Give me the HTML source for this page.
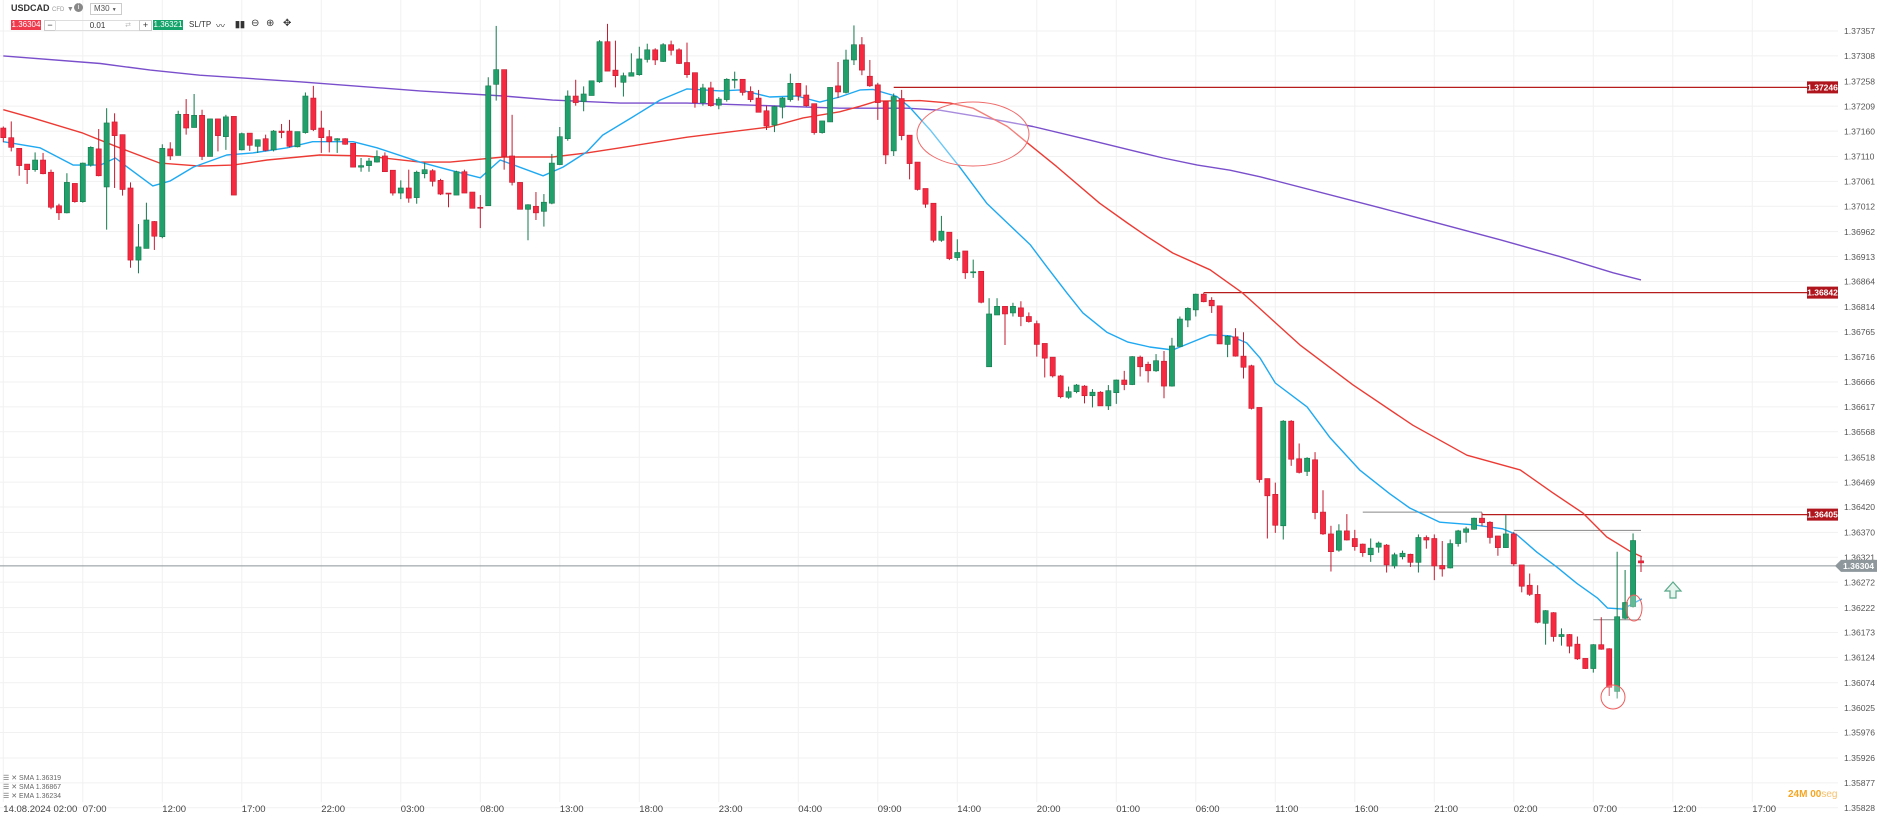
<!DOCTYPE html>
<html><head><meta charset="utf-8"><style>
html,body{margin:0;padding:0;background:#fff;width:1877px;height:816px;overflow:hidden;font-family:"Liberation Sans",sans-serif;}
#chart{position:absolute;left:0;top:0;}
.tb{position:absolute;font-size:9px;color:#333;}
</style></head><body>
<svg id="chart" width="1877" height="816" xmlns="http://www.w3.org/2000/svg">
<g id="grid"></g>
<g id="yaxis"></g>
<g id="xaxis"></g>
<g id="levels"></g>
<g id="lines"></g>
<g id="candles"></g>
<g id="drawings"></g>
<g id="tags"></g>
</svg>

<div class="tb" style="left:11px;top:3px;font-weight:bold;font-size:9px;">USDCAD <span style="font-size:6px;color:#999;font-weight:normal">CFD</span> <span style="color:#888;font-weight:normal;font-size:7px">▼</span></div>
<div class="tb" style="left:74px;top:3px;width:9px;height:9px;border-radius:50%;background:#888;color:#fff;font-size:7px;text-align:center;line-height:9px;">i</div>
<div class="tb" style="left:90px;top:3px;width:27px;height:10px;border:1px solid #ccc;font-size:8px;line-height:10px;padding-left:3px;color:#555;">M30 <span style="font-size:5px">▼</span></div>
<div class="tb" style="left:11px;top:20px;width:30px;height:10px;background:#f0394b;color:#fff;font-size:8px;line-height:10px;text-align:center;">1.36304</div>
<div class="tb" style="left:44px;top:20px;width:10px;height:9px;border:1px solid #ccc;font-size:9px;line-height:8px;text-align:center;">−</div>
<div class="tb" style="left:55px;top:20px;width:83px;height:9px;border:1px solid #ddd;font-size:8px;line-height:9px;text-align:center;">0.01 <span style="position:absolute;right:8px;color:#bbb;font-size:7px">⇄</span></div>
<div class="tb" style="left:139px;top:20px;width:11px;height:9px;border:1px solid #ccc;font-size:9px;line-height:8px;text-align:center;">+</div>
<div class="tb" style="left:153px;top:20px;width:30px;height:10px;background:#14a36b;color:#fff;font-size:8px;line-height:10px;text-align:center;">1.36321</div>
<div class="tb" style="left:189px;top:20px;font-size:8px;line-height:10px;">SL/TP</div>
<div class="tb" style="left:216px;top:19px;font-size:9px;">〰</div>
<div class="tb" style="left:235px;top:19px;font-size:9px;font-weight:bold;">▮▮</div>
<div class="tb" style="left:251px;top:18px;font-size:10px;">⊖</div>
<div class="tb" style="left:266px;top:18px;font-size:10px;">⊕</div>
<div class="tb" style="left:283px;top:18px;font-size:10px;">✥</div>

<div class="tb" style="left:3px;top:774px;font-size:7px;color:#666;">☰ ✕ SMA 1.36319</div>
<div class="tb" style="left:3px;top:783px;font-size:7px;color:#666;">☰ ✕ SMA 1.36867</div>
<div class="tb" style="left:3px;top:792px;font-size:7px;color:#666;">☰ ✕ EMA 1.36234</div>
<div class="tb" style="left:1788px;top:789px;font-size:10px;font-weight:bold;color:#f5a623;">24M <span style="color:#f5a623">00</span><span style="font-weight:normal;color:#f8c06a">seg</span></div>

<script>
const opens=[1.37166,1.37147,1.37126,1.37095,1.37084,1.37103,1.37079,1.37013,1.36999,1.37057,1.37021,1.37093,1.37125,1.37050,1.37178,1.37153,1.37048,1.36906,1.36929,1.36982,1.36952,1.37125,1.37112,1.37193,1.37167,1.37191,1.37110,1.37184,1.37149,1.37189,1.37123,1.37156,1.37130,1.37145,1.37123,1.37160,1.37160,1.37129,1.37157,1.37225,1.37166,1.37149,1.37142,1.37145,1.37136,1.37089,1.37092,1.37099,1.37111,1.37083,1.37038,1.37048,1.37029,1.37076,1.37082,1.37063,1.37038,1.37034,1.37080,1.37040,1.37010,1.37013,1.37252,1.37281,1.37111,1.37059,1.37006,1.37012,1.37002,1.37018,1.37094,1.37145,1.37229,1.37218,1.37230,1.37257,1.37336,1.37280,1.37256,1.37268,1.37271,1.37301,1.37320,1.37297,1.37330,1.37320,1.37295,1.37275,1.37216,1.37245,1.37211,1.37222,1.37260,1.37262,1.37238,1.37225,1.37200,1.37172,1.37207,1.37222,1.37254,1.37231,1.37214,1.37157,1.37178,1.37249,1.37236,1.37300,1.37330,1.37268,1.37251,1.37218,1.37121,1.37224,1.37152,1.37099,1.37047,1.37018,1.36945,1.36961,1.36911,1.36924,1.36881,1.36884,1.36696,1.36798,1.36815,1.36802,1.36812,1.36795,1.36781,1.36742,1.36715,1.36678,1.36636,1.36647,1.36658,1.36639,1.36646,1.36619,1.36645,1.36670,1.36661,1.36715,1.36701,1.36688,1.36707,1.36658,1.36736,1.36788,1.36808,1.36839,1.36827,1.36816,1.36740,1.36755,1.36717,1.36698,1.36616,1.36476,1.36445,1.36383,1.36589,1.36515,1.36490,1.36513,1.36410,1.36367,1.36335,1.36373,1.36358,1.36347,1.36326,1.36341,1.36345,1.36304,1.36322,1.36327,1.36311,1.36360,1.36358,1.36305,1.36300,1.36348,1.36370,1.36376,1.36398,1.36390,1.36363,1.36340,1.36367,1.36306,1.36266,1.36248,1.36191,1.36212,1.36165,1.36169,1.36150,1.36122,1.36102,1.36149,1.36141,1.36057,1.36201,1.36224,1.36314];
const highs=[1.37169,1.37179,1.37126,1.37095,1.37118,1.37117,1.37084,1.37017,1.37077,1.37057,1.37098,1.37130,1.37164,1.37205,1.37195,1.37153,1.37059,1.36977,1.37019,1.36983,1.37134,1.37138,1.37200,1.37223,1.37233,1.37202,1.37184,1.37184,1.37192,1.37189,1.37157,1.37156,1.37143,1.37153,1.37162,1.37174,1.37182,1.37159,1.37236,1.37249,1.37200,1.37162,1.37146,1.37146,1.37136,1.37107,1.37107,1.37122,1.37118,1.37083,1.37063,1.37084,1.37082,1.37098,1.37085,1.37066,1.37038,1.37082,1.37084,1.37040,1.37034,1.37266,1.37367,1.37281,1.37192,1.37059,1.37016,1.37040,1.37036,1.37115,1.37168,1.37240,1.37261,1.37248,1.37259,1.37339,1.37371,1.37338,1.37275,1.37313,1.37326,1.37332,1.37323,1.37333,1.37338,1.37323,1.37334,1.37275,1.37253,1.37257,1.37227,1.37264,1.37277,1.37262,1.37248,1.37241,1.37210,1.37210,1.37227,1.37273,1.37254,1.37250,1.37214,1.37180,1.37246,1.37296,1.37320,1.37368,1.37345,1.37300,1.37255,1.37218,1.37234,1.37241,1.37152,1.37099,1.37047,1.37018,1.36993,1.36961,1.36947,1.36924,1.36907,1.36884,1.36831,1.36831,1.36815,1.36822,1.36825,1.36803,1.36787,1.36742,1.36715,1.36680,1.36657,1.36662,1.36660,1.36652,1.36648,1.36660,1.36671,1.36688,1.36717,1.36718,1.36706,1.36721,1.36727,1.36753,1.36795,1.36813,1.36840,1.36842,1.36833,1.36816,1.36758,1.36772,1.36764,1.36700,1.36616,1.36476,1.36468,1.36591,1.36591,1.36545,1.36518,1.36528,1.36453,1.36383,1.36386,1.36406,1.36375,1.36348,1.36358,1.36352,1.36347,1.36330,1.36334,1.36328,1.36366,1.36364,1.36366,1.36353,1.36356,1.36375,1.36381,1.36399,1.36409,1.36392,1.36363,1.36404,1.36371,1.36306,1.36289,1.36266,1.36217,1.36213,1.36181,1.36170,1.36165,1.36122,1.36150,1.36203,1.36142,1.36332,1.36296,1.36368,1.36323];
const lows=[1.37138,1.37120,1.37072,1.37056,1.37080,1.37075,1.37006,1.36985,1.36998,1.37019,1.37019,1.37090,1.37071,1.36966,1.37048,1.37033,1.36891,1.36880,1.36929,1.36926,1.36949,1.37103,1.37112,1.37153,1.37167,1.37103,1.37110,1.37120,1.37123,1.37034,1.37122,1.37121,1.37117,1.37120,1.37120,1.37146,1.37128,1.37128,1.37155,1.37160,1.37117,1.37118,1.37117,1.37133,1.37089,1.37080,1.37080,1.37098,1.37080,1.37033,1.37026,1.37019,1.37017,1.37067,1.37051,1.37034,1.37010,1.37034,1.37038,1.37008,1.36969,1.37013,1.37220,1.37084,1.37053,1.37006,1.36945,1.36985,1.36972,1.37016,1.37093,1.37141,1.37210,1.37199,1.37230,1.37255,1.37278,1.37246,1.37228,1.37268,1.37269,1.37295,1.37290,1.37296,1.37309,1.37292,1.37265,1.37206,1.37210,1.37208,1.37203,1.37218,1.37244,1.37230,1.37217,1.37197,1.37162,1.37158,1.37185,1.37218,1.37220,1.37208,1.37153,1.37155,1.37178,1.37225,1.37234,1.37290,1.37270,1.37247,1.37182,1.37095,1.37111,1.37142,1.37065,1.37043,1.37009,1.36941,1.36942,1.36906,1.36905,1.36869,1.36871,1.36821,1.36696,1.36798,1.36739,1.36795,1.36776,1.36783,1.36716,1.36675,1.36675,1.36634,1.36633,1.36644,1.36624,1.36616,1.36619,1.36611,1.36623,1.36650,1.36660,1.36677,1.36665,1.36686,1.36634,1.36657,1.36736,1.36774,1.36795,1.36823,1.36802,1.36741,1.36715,1.36716,1.36673,1.36612,1.36468,1.36358,1.36369,1.36356,1.36501,1.36486,1.36481,1.36396,1.36365,1.36293,1.36332,1.36354,1.36334,1.36322,1.36312,1.36330,1.36291,1.36299,1.36317,1.36302,1.36291,1.36338,1.36276,1.36283,1.36299,1.36342,1.36350,1.36375,1.36382,1.36348,1.36324,1.36340,1.36304,1.36252,1.36245,1.36191,1.36149,1.36155,1.36147,1.36132,1.36119,1.36101,1.36094,1.36139,1.36048,1.36043,1.36199,1.36222,1.36292];
const closes=[1.37147,1.37128,1.37092,1.37084,1.37103,1.37076,1.37010,1.36999,1.37059,1.37021,1.37097,1.37128,1.37072,1.37176,1.37151,1.37045,1.36906,1.36932,1.36985,1.36953,1.37126,1.37111,1.37193,1.37166,1.37191,1.37110,1.37184,1.37151,1.37188,1.37034,1.37155,1.37132,1.37143,1.37122,1.37160,1.37157,1.37130,1.37159,1.37229,1.37163,1.37147,1.37139,1.37145,1.37134,1.37089,1.37092,1.37101,1.37110,1.37080,1.37038,1.37048,1.37028,1.37079,1.37084,1.37061,1.37036,1.37036,1.37080,1.37038,1.37008,1.37008,1.37249,1.37281,1.37110,1.37059,1.37006,1.37015,1.36999,1.37020,1.37097,1.37149,1.37229,1.37216,1.37233,1.37259,1.37336,1.37278,1.37269,1.37269,1.37275,1.37302,1.37320,1.37300,1.37330,1.37319,1.37293,1.37271,1.37216,1.37245,1.37210,1.37223,1.37262,1.37262,1.37236,1.37222,1.37197,1.37170,1.37208,1.37225,1.37254,1.37229,1.37210,1.37157,1.37180,1.37246,1.37237,1.37300,1.37330,1.37280,1.37249,1.37216,1.37113,1.37228,1.37151,1.37096,1.37045,1.37016,1.36945,1.36963,1.36909,1.36921,1.36881,1.36883,1.36823,1.36800,1.36815,1.36800,1.36815,1.36795,1.36785,1.36740,1.36713,1.36678,1.36637,1.36647,1.36660,1.36639,1.36646,1.36619,1.36649,1.36670,1.36661,1.36716,1.36696,1.36688,1.36708,1.36658,1.36737,1.36790,1.36811,1.36839,1.36824,1.36816,1.36741,1.36756,1.36717,1.36695,1.36614,1.36474,1.36442,1.36384,1.36589,1.36514,1.36488,1.36516,1.36409,1.36367,1.36332,1.36373,1.36355,1.36342,1.36330,1.36339,1.36349,1.36306,1.36326,1.36329,1.36311,1.36360,1.36355,1.36304,1.36298,1.36348,1.36373,1.36377,1.36398,1.36389,1.36360,1.36340,1.36367,1.36308,1.36264,1.36248,1.36193,1.36216,1.36165,1.36169,1.36146,1.36121,1.36102,1.36149,1.36140,1.36065,1.36204,1.36232,1.36354,1.36310];

const slowSmaIdx=[0,12.2,18.5,24.7,37.3,52.4,62.9,69.1,77.6,86,94.3,105.2,113.7,117.8,122.9,129.5,136.7,141.7,145.9,150.2,154.3,158.1,173.2,188.3,195.8,202.5,206];
const slowSmaVal=[1.37308,1.37293,1.37280,1.37270,1.37257,1.37239,1.37229,1.37221,1.37215,1.37215,1.37211,1.37205,1.37205,1.37201,1.37188,1.37169,1.37142,1.37123,1.37107,1.37093,1.37083,1.37070,1.37009,1.36946,1.36913,1.36881,1.36867];
const midSmaIdx=[0,3.7,10,14.3,19.7,24.7,28.9,33.2,39.8,45.7,52.4,56.2,62.9,69.1,73.4,77.6,86,90.2,96.4,100.6,105.2,107.8,109.9,115.3,119.1,122,126.3,128.8,132.5,137.9,141.4,143.9,147.1,151.8,155.9,158.1,163.1,169.8,177.3,184.1,190.8,194.9,198.7,201.7,204.6,206.1];
const midSmaVal=[1.37202,1.37186,1.37156,1.37129,1.37097,1.37091,1.37093,1.37103,1.37113,1.37111,1.37099,1.37099,1.37109,1.37109,1.37117,1.37127,1.37148,1.37156,1.37168,1.37186,1.37198,1.37209,1.37219,1.37220,1.37215,1.37205,1.37169,1.37137,1.37090,1.37018,1.36979,1.36952,1.36920,1.36887,1.36841,1.36810,1.36739,1.36660,1.36581,1.36522,1.36493,1.36448,1.36408,1.36361,1.36333,1.36322];
const emaIdx=[0,4.6,8.8,12.2,14.1,15.6,18.8,21,23.9,28.1,31.4,35.7,38.9,44,47,52.4,56.2,60,62.5,67.9,70.4,73.4,75.4,79.2,82.6,86,90.2,92.7,96.4,99.8,102.7,105.2,107.8,109.4,112.4,114,116.6,120.3,123.7,126.3,129.2,131.3,133.8,135.8,138.8,141.4,144.2,147.1,149.3,151.8,154.3,156.4,158.1,160,164,166.9,170.6,174.4,176.9,180.7,184.9,188.6,190.4,192.9,195.4,197.9,200.5,201.8,203.7,206.1];
const emaVal=[1.37139,1.37127,1.37093,1.37093,1.37107,1.37089,1.37052,1.37062,1.37089,1.37113,1.37117,1.37127,1.37139,1.37139,1.37127,1.37099,1.37083,1.37068,1.37103,1.37072,1.37089,1.37119,1.37152,1.37188,1.37221,1.37243,1.37239,1.37241,1.37227,1.37229,1.37217,1.37227,1.37241,1.37242,1.37228,1.37207,1.37162,1.37089,1.37018,1.36979,1.36936,1.36892,1.36841,1.36802,1.36764,1.36745,1.36735,1.36729,1.36743,1.36759,1.36757,1.36743,1.36713,1.36664,1.36617,1.36556,1.36493,1.36446,1.36418,1.36390,1.36385,1.36377,1.36365,1.36331,1.36302,1.36270,1.36241,1.36221,1.36219,1.36239];

const priceTicks=["1.37357","1.37308","1.37258","1.37209","1.37160","1.37110","1.37061","1.37012","1.36962","1.36913","1.36864","1.36814","1.36765","1.36716","1.36666","1.36617","1.36568","1.36518","1.36469","1.36420","1.36370","1.36321","1.36272","1.36222","1.36173","1.36124","1.36074","1.36025","1.35976","1.35926","1.35877","1.35828"];
const timeLabels=["14.08.2024 02:00","07:00","12:00","17:00","22:00","03:00","08:00","13:00","18:00","23:00","04:00","09:00","14:00","20:00","01:00","06:00","11:00","16:00","21:00","02:00","07:00","12:00","17:00"];
const levelPrices=[1.37246,1.36842,1.36405];
const levelStartIdx=[112,151,186];
const currentPrice=1.36304;

const NS="http://www.w3.org/2000/svg";
function X(i){return 3.3+7.95*i;}
function Y(p){return 31+(1.37357-p)*50800;}
const PLOT_R=1838;
function mk(tag,attrs,parent){const e=document.createElementNS(NS,tag);for(const k in attrs)e.setAttribute(k,attrs[k]);parent.appendChild(e);return e;}

const grid=document.getElementById('grid'),yaxis=document.getElementById('yaxis'),xaxis=document.getElementById('xaxis');
priceTicks.forEach(t=>{
  const y=Y(parseFloat(t));
  const l=mk('line',{x1:0,x2:PLOT_R,y1:y,y2:y,stroke:'#f1f1f1','stroke-width':1},grid);
  
  
  const tx=mk('text',{x:1844,y:y+3.2,'font-size':8.6,fill:'#555','font-family':'Liberation Sans, sans-serif'},yaxis);
  tx.textContent=t;
  
  
});
timeLabels.forEach((t,k)=>{
  const x=X(10*k);
  const l=mk('line',{x1:x,x2:x,y1:0,y2:802,stroke:'#f1f1f1','stroke-width':1},grid);
  
  
  const tx=mk('text',{x:x,y:812,'font-size':9.5,fill:'#444','font-family':'Liberation Sans, sans-serif'},xaxis);
  tx.textContent=t;
  
  
});

const levels=document.getElementById('levels');
levelPrices.forEach((p,k)=>{
  const y=Y(p);
  const l=mk('line',{x1:X(levelStartIdx[k]),x2:1807,y1:y,y2:y,stroke:'#b71c1c','stroke-width':1.3},levels);
  
  
});
[[171,186,1.36410],[190,206,1.36374],[200,206,1.36198]].forEach(a=>{
  const y=Y(a[2]);
  const l=mk('line',{x1:X(a[0]),x2:X(a[1]),y1:y,y2:y,stroke:'#888','stroke-width':1},levels);
  
  
});
{const y=Y(currentPrice);
 const l=mk('line',{x1:0,x2:1838,y1:y,y2:y,stroke:'#8a9499','stroke-width':1},levels);
 
 }

const lines=document.getElementById('lines');
function poly(idx,val,color,name){
  const pts=idx.map((i,k)=>X(i).toFixed(1)+','+Y(val[k]).toFixed(1)).join(' ');
  const p=mk('polyline',{points:pts,fill:'none',stroke:color,'stroke-width':1.4,'stroke-linejoin':'round'},lines);
  
  
}
poly(slowSmaIdx,slowSmaVal,'#7a4fcc','sma-slow-line');
poly(midSmaIdx,midSmaVal,'#ec3b34','sma-mid-line');
poly(emaIdx,emaVal,'#1ea9f2','ema-line');

const cg=document.getElementById('candles');
opens.forEach((o,i)=>{
  const c=closes[i],h=highs[i],lo=lows[i];
  const up=c>=o;
  const col=up?'#22a06b':'#f5293f', edge=up?'#137a4c':'#c51a30';
  const x=X(i);
  const w=mk('line',{x1:x,x2:x,y1:Y(h),y2:Y(lo),stroke:edge,'stroke-width':1},cg);
  
  
  const top=Y(Math.max(o,c)),bot=Y(Math.min(o,c));
  const r=mk('rect',{x:x-2.6,y:top,width:5.2,height:Math.max(1,bot-top),fill:col,stroke:edge,'stroke-width':0.6},cg);
  
  
});

const dg=document.getElementById('drawings');
{const e=mk('ellipse',{cx:973,cy:134,rx:56,ry:32,fill:'rgba(255,255,255,0.35)',stroke:'#ef6b6b','stroke-width':1},dg);
 
 }
{const e=mk('ellipse',{cx:1613,cy:697,rx:12,ry:12,fill:'rgba(255,255,255,0.3)',stroke:'#ef5a5a','stroke-width':1},dg);
 
 }
{const e=mk('ellipse',{cx:1634,cy:608,rx:8,ry:13,fill:'rgba(255,255,255,0.3)',stroke:'#ef5a5a','stroke-width':1},dg);
 
 }
{const a=mk('path',{d:'M1673,582 L1681,591 L1676,591 L1676,598 L1670,598 L1670,591 L1665,591 Z',fill:'#e6f4ee',stroke:'#5aa88a','stroke-width':1.2},dg);
 
 }

const tg=document.getElementById('tags');
levelPrices.forEach(p=>{
  const y=Y(p);
  const r=mk('rect',{x:1807,y:y-6,width:31,height:12,fill:'#b0151d'},tg);
  
  
  const t=mk('text',{x:1822.5,y:y+3,'font-size':8.5,'font-weight':'bold',fill:'#fff','text-anchor':'middle','font-family':'Liberation Sans, sans-serif'},tg);
  t.textContent=p.toFixed(5);
  
  
});
{const y=Y(currentPrice);
 const r=mk('path',{d:`M1835,${y} L1841,${y-6} L1877,${y-6} L1877,${y+6} L1841,${y+6} Z`,fill:'#8d979c'},tg);
 
 
 const t=mk('text',{x:1843,y:y+3.2,'font-size':8.6,'font-weight':'bold',fill:'#fff','font-family':'Liberation Sans, sans-serif'},tg);
 t.textContent=currentPrice.toFixed(5);
 
 }
</script>
</body></html>
